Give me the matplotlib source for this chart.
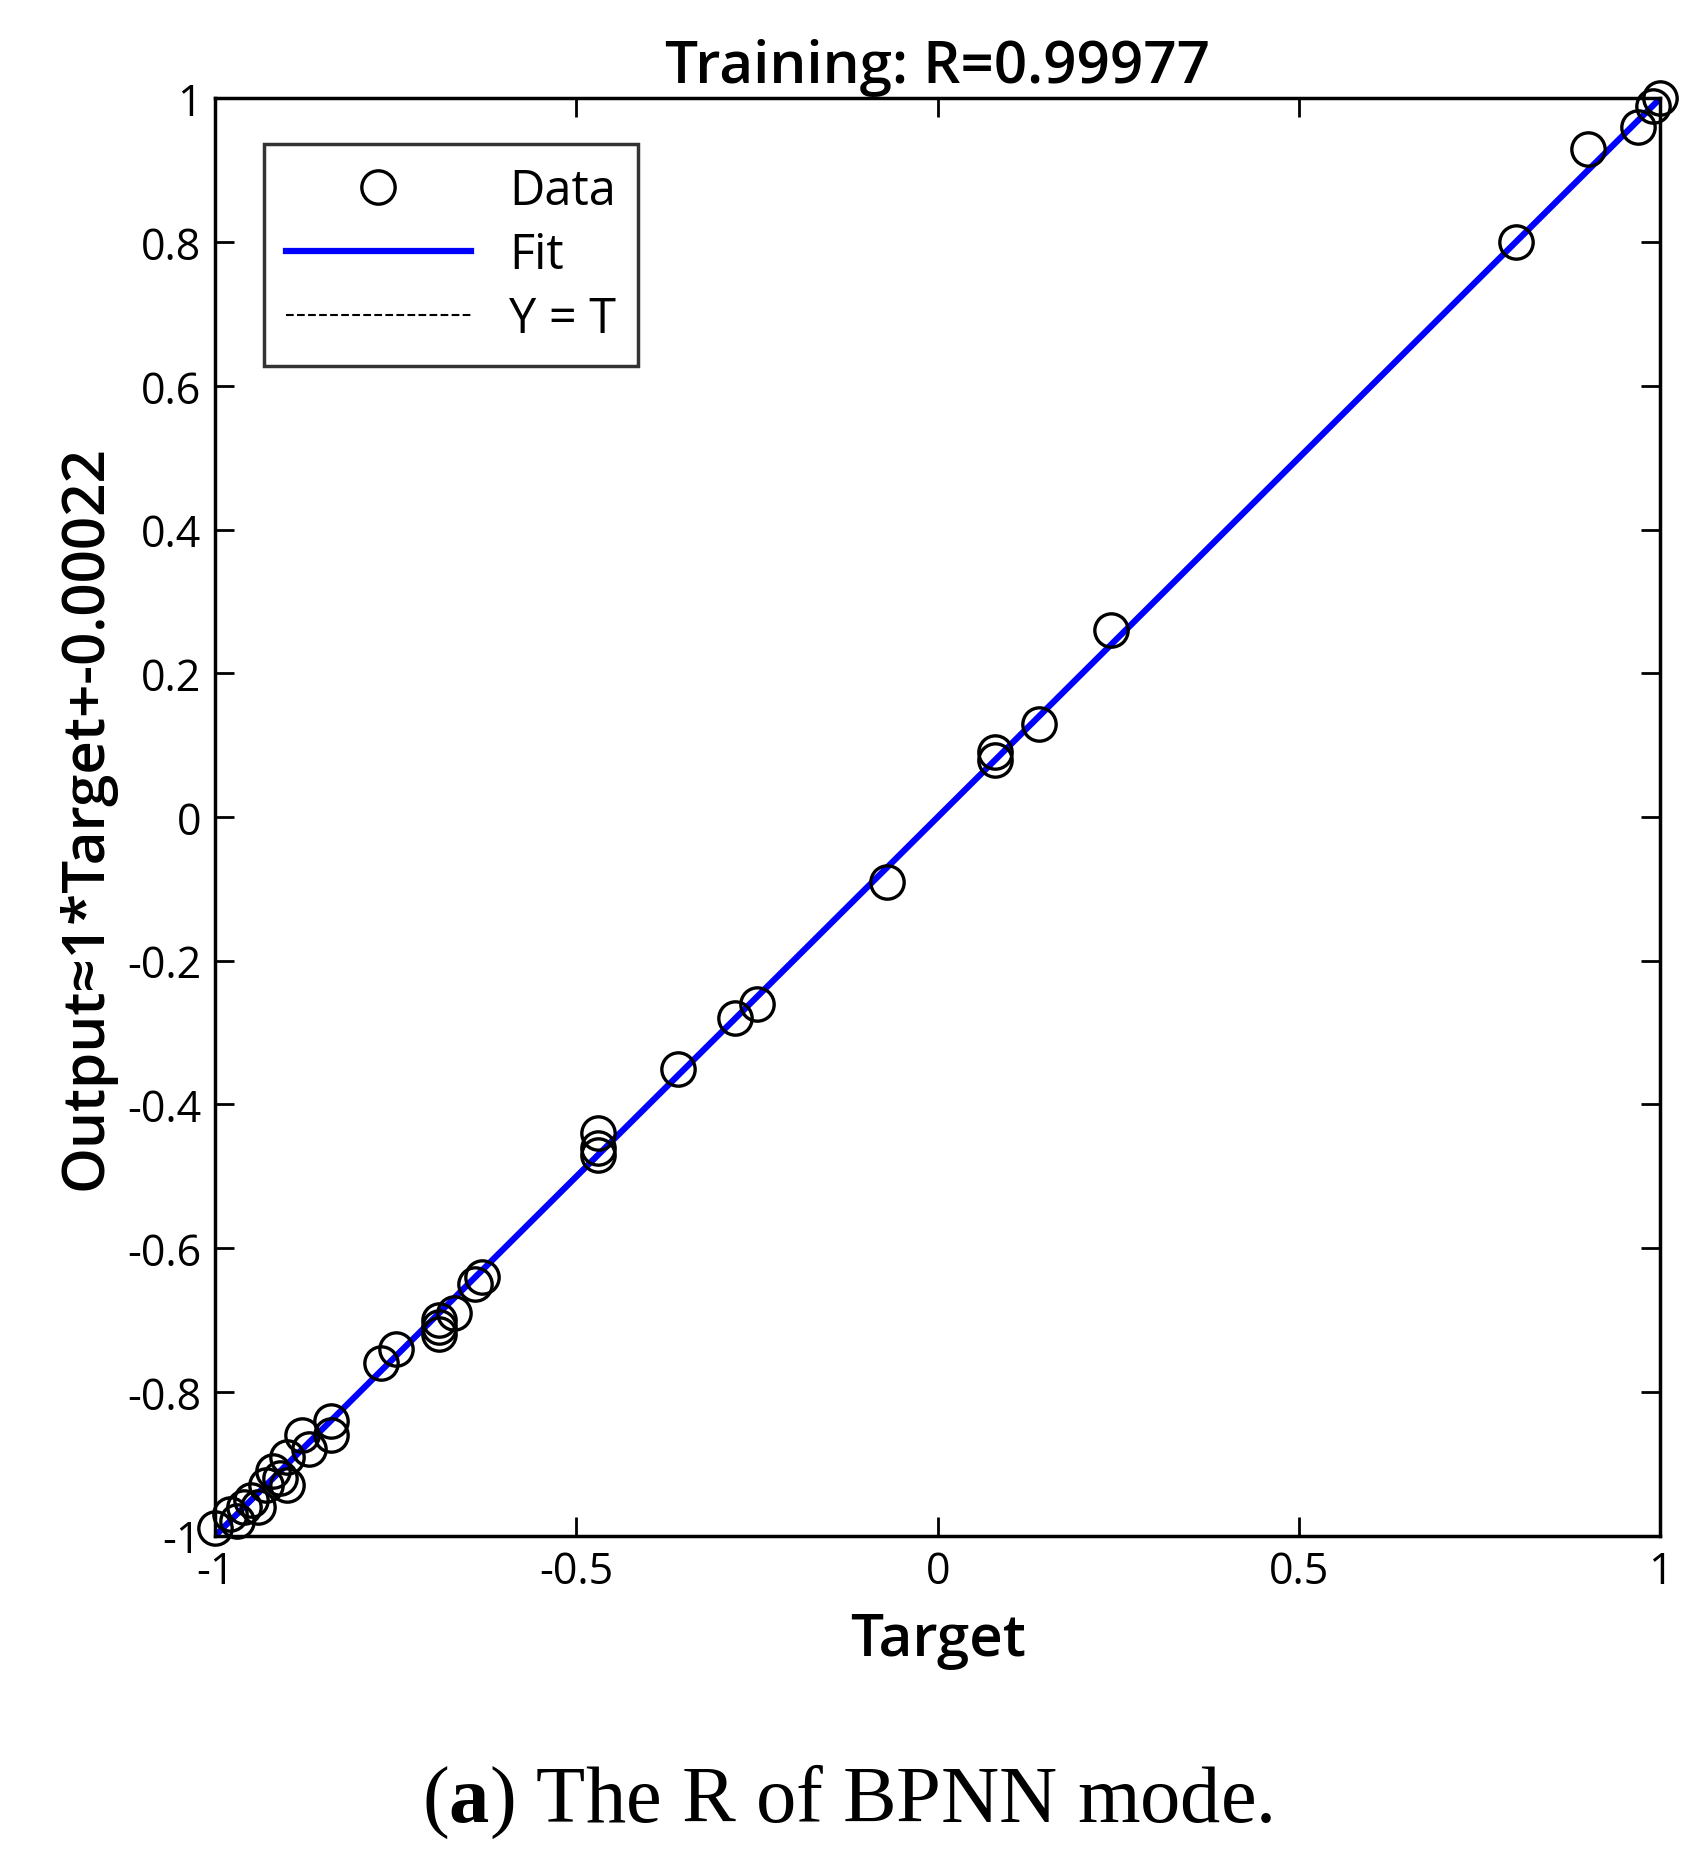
import matplotlib
matplotlib.use("Agg")
import matplotlib.pyplot as plt
import numpy as np

target = [-1.0,-0.98,-0.97,-0.96,-0.95,-0.94,-0.93,-0.92,-0.91,-0.90,-0.90,-0.88,-0.87,-0.84,-0.84,
          -0.77,-0.75,-0.69,-0.69,-0.69,-0.67,-0.64,-0.63,-0.47,-0.47,-0.47,-0.36,-0.28,-0.25,
          -0.07,0.08,0.08,0.14,0.24,0.80,0.90,0.97,0.99,1.0]
output = [-0.99,-0.97,-0.98,-0.96,-0.95,-0.96,-0.93,-0.91,-0.92,-0.89,-0.93,-0.86,-0.88,-0.84,-0.86,
          -0.76,-0.74,-0.70,-0.71,-0.72,-0.69,-0.65,-0.64,-0.44,-0.46,-0.47,-0.35,-0.28,-0.26,
          -0.09,0.08,0.09,0.13,0.26,0.80,0.93,0.96,0.99,1.0]
xticks = [-1, -0.5, 0, 0.5, 1]
yticks = [-1, -0.8, -0.6, -0.4, -0.2, 0, 0.2, 0.4, 0.6, 0.8, 1]

plt.rcParams['font.family'] = ['Open Sans', 'DejaVu Sans']
plt.rcParams['mathtext.fontset'] = 'custom'
plt.rcParams['mathtext.bf'] = 'Liberation Serif:bold'
plt.rcParams['mathtext.rm'] = 'Liberation Serif'

fig = plt.figure(figsize=(16.94, 18.74), dpi=100)
ax = fig.add_axes([0.127, 0.180, 0.853, 0.767])
ax.plot(target, output, 'o', mfc='none', mec='black', ms=24, mew=2.4, label='Data', zorder=3, clip_on=False)
xl = np.array([-1, 1])
ax.plot(xl, 1.0*xl - 0.00022, color='#0000ff', lw=4.5, label='Fit', zorder=2)
ax.plot(xl, xl, '--', color='black', lw=1.5, label='Y = T', zorder=1)
ax.set_xlim(-1, 1); ax.set_ylim(-1, 1)
ax.set_xticks(xticks); ax.set_xticklabels(['-1', '-0.5', '0', '0.5', '1'])
ax.set_yticks(yticks); ax.set_yticklabels(['-1', '-0.8', '-0.6', '-0.4', '-0.2', '0', '0.2', '0.4', '0.6', '0.8', '1'])
ax.tick_params(direction='in', length=14, width=2, labelsize=31, top=True, right=True, pad=10)
for s in ax.spines.values():
    s.set_linewidth(2.5)
ax.set_title('Training: R=0.99977', fontsize=42, pad=12, fontweight='semibold')
ax.set_xlabel('Target', fontsize=42, labelpad=12, fontweight='semibold')
ax.set_ylabel('Output≈1*Target+-0.00022', fontsize=42, labelpad=8, fontweight='semibold')
leg = ax.legend(loc='upper left', fontsize=35, frameon=True, fancybox=False, edgecolor='black',
                handlelength=3.8, borderpad=0.45, labelspacing=0.3, bbox_to_anchor=(0.017, 0.985))
leg.get_frame().set_linewidth(2.5)
fig.text(0.5, 0.028, r'($\mathbf{a}$) The R of BPNN mode.', ha='center', fontsize=58, family='Liberation Serif')
fig.savefig('out.png', dpi=100, facecolor='white')
